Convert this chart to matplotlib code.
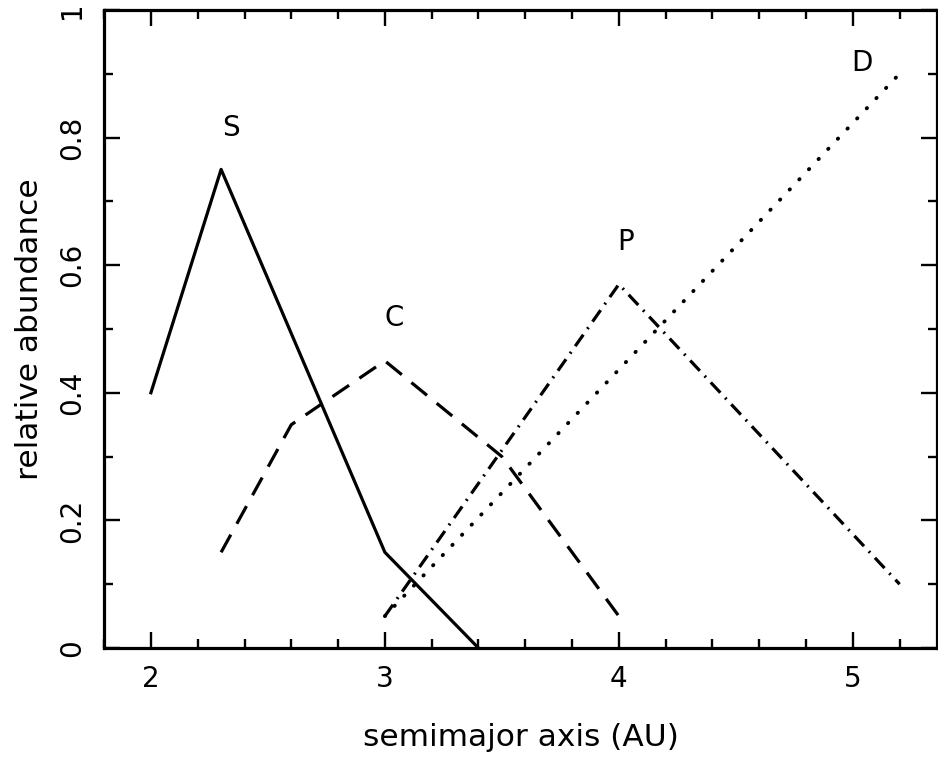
import numpy as np
import matplotlib
matplotlib.use('Agg')
from matplotlib import pyplot as plt
from matplotlib.ticker import MultipleLocator

# relative abundance of asteroid classes vs semimajor axis
s_x = [2.0, 2.3, 3.0, 3.4]
s_y = [0.40, 0.75, 0.15, 0.0]

c_x = [2.3, 2.6, 3.0, 3.5, 4.0]
c_y = [0.15, 0.35, 0.45, 0.30, 0.05]

p_x = [3.0, 4.0, 5.2]
p_y = [0.05, 0.57, 0.10]

d_x = [3.0, 5.2]
d_y = [0.05, 0.90]

class_labels = ['S', 'C', 'P', 'D']
label_x = [2.34, 3.04, 4.03, 5.04]
label_y = [0.815, 0.517, 0.636, 0.917]

plt.rcParams['font.family'] = ['DejaVu Sans']

fig = plt.figure(figsize=(9.38, 7.59), dpi=100)
ax = fig.add_axes([0.111, 0.1462, 0.888, 0.8408])

lw = 2.3
ax.plot(s_x, s_y, '-', color='black', lw=lw)
ax.plot(c_x, c_y, color='black', lw=lw, linestyle=(0, (6.3, 3.9)))
ax.plot(p_x, p_y, color='black', lw=lw, linestyle=(0, (4.4, 2.2, 0.6, 2.2)))
ax.plot(d_x, d_y, color='black', lw=2.8, linestyle=(0, (0.1, 3.5)),
        dash_capstyle='round')

for lab, lx, ly in zip(class_labels, label_x, label_y):
    ax.text(lx, ly, lab, fontsize=20, ha='center', va='center')

ax.set_xlim(1.8, 5.36)
ax.set_ylim(0, 1)
ax.xaxis.set_minor_locator(MultipleLocator(0.2))
ax.yaxis.set_minor_locator(MultipleLocator(0.1))
ax.set_xticks([2, 3, 4, 5])
ax.set_xticklabels(['2', '3', '4', '5'])
ax.set_yticks([0, 0.2, 0.4, 0.6, 0.8, 1.0])
ax.set_yticklabels(['0', '0.2', '0.4', '0.6', '0.8', '1'], rotation=90, va='center')

ax.tick_params(which='both', direction='in', top=True, right=True, width=1.7,
               labelsize=20)
ax.tick_params(which='major', length=11.5)
ax.tick_params(which='minor', length=6.5)
ax.tick_params(axis='x', pad=12)
ax.tick_params(axis='y', pad=13)
for sp in ax.spines.values():
    sp.set_linewidth(2.3)

ax.set_xlabel('semimajor axis (AU)', fontsize=22.5, labelpad=22)
ax.set_ylabel('relative abundance', fontsize=22.5, labelpad=10)

plt.savefig('out.png', dpi=100)
